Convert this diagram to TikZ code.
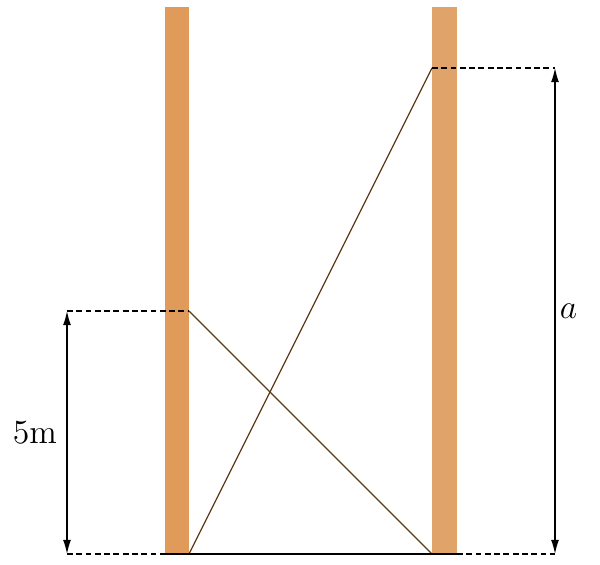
\documentclass[tikz,border=0pt]{standalone}
\usepackage{amsmath,amssymb}
\usepackage{tikz}
\usetikzlibrary{arrows.meta}
\definecolor{poleleft}{RGB}{224,155,90}
\definecolor{poleright}{RGB}{224,164,106}
\definecolor{ropebrown}{RGB}{92,58,20}

\begin{document}
\begin{tikzpicture}[
	x=0.0125cm,y=-0.0125cm,
	rope/.style={draw=ropebrown,line width=0.4pt},
	guide/.style={dash pattern=on 2.1pt off 1.2pt,line width=0.4pt},
	dim/.style={{Latex[length=5pt,width=2.8pt]}-{Latex[length=5pt,width=2.8pt]},line width=0.45pt},
	font=\large
	]
		\useasboundingbox (0,0) rectangle (600,565);
		
		% the two poles
		\fill[poleleft] (165,7) rectangle (189,554);
		\fill[poleright] (432,7) rectangle (457,554);
		
		\coordinate (lb) at (189,554);
		\coordinate (lt) at (189,311);
		\coordinate (rb) at (432,554);
		\coordinate (rt) at (432,68);
		
		% ropes
		\draw[rope] (lt) -- (rb);
		\draw[rope] (lb) -- (rt);
		\draw[line width=0.4pt] (165,554) -- (457,554);
		
		% guides
		\coordinate (dl1) at (67,554);
		\coordinate (dl2) at (67,311);
		\coordinate (dr1) at (555,68);
		\coordinate (dr2) at (555,554);
		\draw[guide] (dl1) -- (165,554);
		\draw[guide] (dl2) -- (lt);
		\draw[guide] (rt) -- (dr1);
		\draw[guide] (457,554) -- (dr2);
		
		% dimensions
		\draw[dim] (dl2) -- node[left] (five) {5m} (dl1);
		\draw[dim] (dr1) -- node[right,inner sep=1.5pt] (a) {$a$} (dr2);
		
	\end{tikzpicture}
\end{document}
